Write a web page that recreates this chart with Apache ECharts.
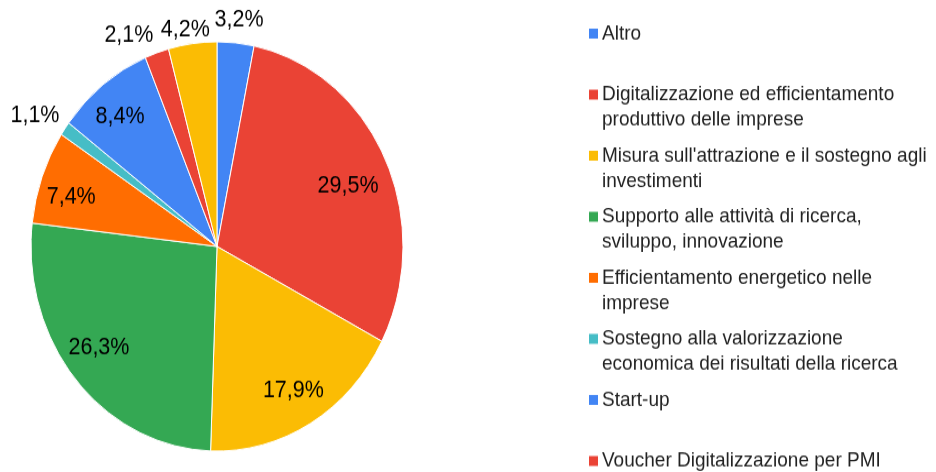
<!DOCTYPE html>
<html>
<head>
<meta charset="utf-8">
<script src="https://cdn.jsdelivr.net/npm/echarts@6/dist/echarts.min.js"></script>
<style>
  html, body { margin: 0; padding: 0; background: #fff; }
  body { width: 936px; height: 472px; overflow: hidden; }
  /* the original picture is stretched vertically, so the chart is too */
  #myChart { width: 936px; height: 429px; transform: scaleY(1.1002); transform-origin: 0 0; }
</style>
</head>
<body>
<div id="myChart"></div>
<script>
  // slices, clockwise from 12 o'clock
  var categories = [
    'Altro',
    'Digitalizzazione ed efficientamento\nproduttivo delle imprese',
    "Misura sull'attrazione e il sostegno agli\ninvestimenti",
    'Supporto alle attività di ricerca,\nsviluppo, innovazione',
    'Efficientamento energetico nelle\nimprese',
    'Sostegno alla valorizzazione\neconomica dei risultati della ricerca',
    'Start-up',
    'Voucher Digitalizzazione per PMI',
    'Altre misure'
  ]
  var shares = [3.2, 29.5, 17.9, 26.3, 7.4, 1.1, 8.4, 2.1, 4.2]
  var colors = ['#4285F4', '#EA4335', '#FBBC04', '#34A853', '#FF6D01', '#46BDC6', '#4285F4', '#EA4335', '#FBBC04']
  // the last entry is cut off the bottom of the legend
  var legendNames = categories.slice(0, 8)

  var cx = 217, cy = 224, R = 186

  // small nudges of the percent labels (by slice index), like the original placement
  var labelNudge = {
    0: [1, 3], 1: [-6, 10], 3: [-3, -7], 4: [-3, 7], 5: [-10, 2],
    6: [-4, 2], 7: [-20, 7], 8: [-4, 12]
  }

  function pct (v) {
    return v.toFixed(1).replace('.', ',') + '%'
  }
  function nudge (params) {
    var d = labelNudge[params.dataIndex] || [0, 0]
    return { dx: d[0], dy: d[1], hideOverlap: false }
  }

  var pieData = categories.map(function (name, i) {
    return { name: name, value: shares[i], itemStyle: { color: colors[i] } }
  })
  function ghostData () {
    return categories.map(function (name, i) {
      return { name: name, value: shares[i], itemStyle: { color: 'rgba(0,0,0,0)' } }
    })
  }

  // legend swatch drawn as rich text so it sits on the first line
  var rich = {
    sp: { width: 13, height: 9 },
    t: { fontSize: 19, lineHeight: 23, color: '#222', fontFamily: 'Liberation Sans, Arial, sans-serif' }
  }
  colors.forEach(function (c, i) {
    rich['c' + i] = { width: 9, height: 9, backgroundColor: c, verticalAlign: 'middle' }
    rich['g' + i] = { width: 4, height: 9 }
  })

  var labelFont = { fontSize: 21.5, color: '#000', fontFamily: 'Liberation Sans, Arial, sans-serif' }

  var myChart = echarts.init(document.getElementById('myChart'))
  myChart.setOption({
    animation: false,
    legend: {
      orient: 'vertical',
      left: 578,
      top: 16,
      height: 800,
      itemWidth: 0,
      itemHeight: 0,
      itemGap: 13.5,
      selectedMode: false,
      data: legendNames,
      formatter: function (name) {
        var i = categories.indexOf(name)
        var lines = name.split('\n')
        var out = '{c' + i + '| }{g' + i + '| }{t|' + lines[0] + '}'
        // single-line entries still take two lines in the original
        out += '\n{sp| }{t|' + (lines[1] || ' ') + '}'
        return out
      },
      textStyle: { rich: rich }
    },
    series: [
      {
        type: 'pie',
        center: [cx, cy],
        radius: R,
        startAngle: 90,
        silent: true,
        label: { show: false },
        labelLine: { show: false },
        itemStyle: { borderColor: '#fff', borderWidth: 1 },
        data: pieData
      },
      {
        // labels of the big slices, inside the pie
        type: 'pie',
        center: [cx, cy],
        radius: [R * 0.6, R],
        startAngle: 90,
        silent: true,
        avoidLabelOverlap: false,
        label: {
          show: true,
          position: 'inside',
          formatter: function (p) { return p.value >= 5 ? pct(p.value) : '' },
          ...labelFont
        },
        labelLayout: nudge,
        labelLine: { show: false },
        data: ghostData()
      },
      {
        // labels of the small slices, just outside the pie
        type: 'pie',
        center: [cx, cy],
        radius: [R, R * 1.23],
        startAngle: 90,
        silent: true,
        avoidLabelOverlap: false,
        label: {
          show: true,
          position: 'inside',
          formatter: function (p) { return p.value < 5 ? pct(p.value) : '' },
          ...labelFont
        },
        labelLayout: nudge,
        labelLine: { show: false },
        data: ghostData()
      }
    ]
  })
</script>
</body>
</html>
